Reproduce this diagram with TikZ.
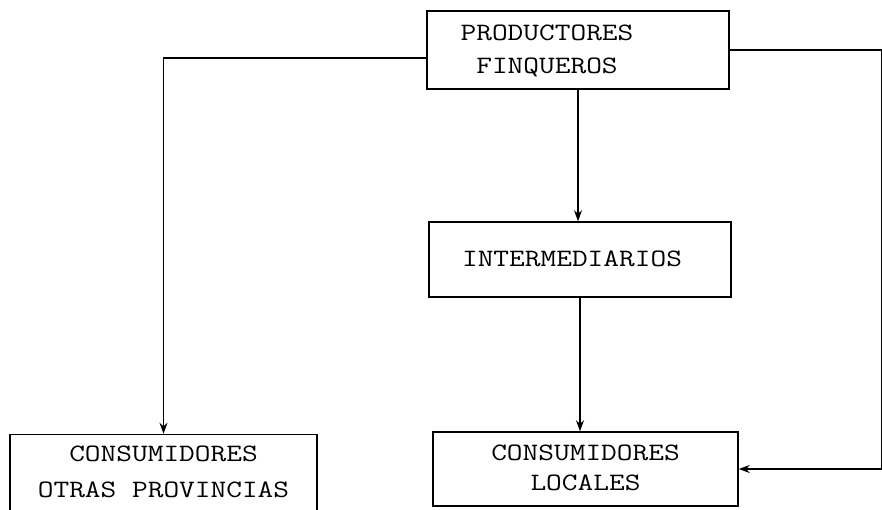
\documentclass[tikz,border=0pt]{standalone}
\usepackage{fontspec}
\usepackage{graphicx}
\usetikzlibrary{positioning, arrows.meta}

\newcommand{\boxlbl}[2][0pt]{\scalebox{1.22}[1]{\fontsize{25}{33}\selectfont\ttfamily\begin{tabular}{@{}c@{}}#2\end{tabular}}\hspace{#1}}

\begin{document}
\begin{tikzpicture}[x=1pt, y=-1pt,
    every node/.style={draw, line width=1.5pt, inner sep=0pt, align=center},
    flow/.style={line width=1.5pt, -{Stealth[length=11pt, width=8pt]}}]

		\useasboundingbox (0,0) rectangle (882,509);
		\clip (0,0) rectangle (882,509);

		\node[minimum width=302pt, minimum height=78pt] (prod) at (578,50) {\boxlbl[62pt]{PRODUCTORES\\FINQUEROS}};
		\node[minimum width=302pt, minimum height=75pt] (inter) at (580,259.5) {\boxlbl[16pt]{INTERMEDIARIOS}};
		\node[minimum width=305pt, minimum height=74pt] (loc) at (585.5,469) {\boxlbl{CONSUMIDORES\\[-3pt]LOCALES}};
		\node[minimum width=307pt, minimum height=76pt] (prov) at (163.5,472.5) {\boxlbl{CONSUMIDORES\\[3pt]OTRAS PROVINCIAS}};
		\coordinate (edge) at (881.5,0);

		% chain down the middle
		\draw[flow] (prod.south) -- (prod.south |- inter.north);
		\draw[flow] (inter.south) -- (inter.south |- loc.north);

		% direct sales, left and right
		\draw[flow] ([yshift=-8pt]prod.west) -| (prov.north);
		\draw[flow] (prod.east) -- (prod.east -| edge) -- (edge |- loc.east) -- (loc.east);

\end{tikzpicture}
\end{document}
